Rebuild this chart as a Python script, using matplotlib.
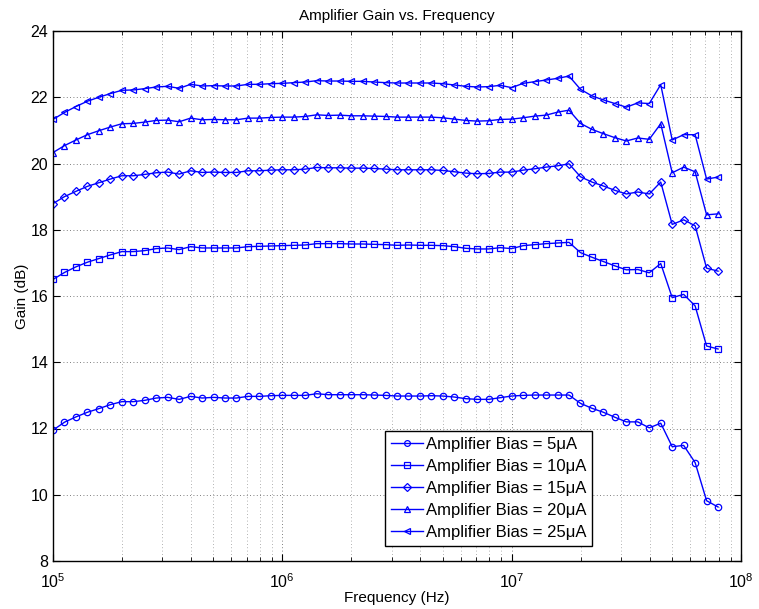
import numpy as np
import matplotlib
matplotlib.use("Agg")
import matplotlib.pyplot as plt
from matplotlib.ticker import LogLocator, NullFormatter

plt.rcParams['font.family'] = ['Liberation Sans', 'DejaVu Sans']

# frequencies: 20 points per decade from 1e5
exponents = [5 + k / 20 for k in range(59)]
freq = [10 ** e for e in exponents]

gain_5uA = [11.95, 12.19, 12.35, 12.49, 12.60, 12.72, 12.81, 12.81, 12.85, 12.92,
            12.94, 12.88, 12.97, 12.92, 12.94, 12.92, 12.92, 12.97, 12.97, 12.99,
            13.00, 13.00, 13.00, 13.05, 13.02, 13.02, 13.02, 13.02, 13.01, 13.00,
            12.98, 12.98, 12.98, 12.99, 12.98, 12.95, 12.90, 12.88, 12.88, 12.93,
            12.98, 13.00, 13.01, 13.01, 13.01, 13.01, 12.76, 12.61, 12.49, 12.34,
            12.20, 12.20, 12.02, 12.16, 11.45, 11.49, 10.97, 9.82, 9.63]

gain_10uA = [16.50, 16.71, 16.88, 17.02, 17.13, 17.24, 17.34, 17.34, 17.37, 17.43,
             17.45, 17.40, 17.49, 17.45, 17.45, 17.45, 17.45, 17.49, 17.50, 17.51,
             17.52, 17.53, 17.54, 17.58, 17.58, 17.58, 17.57, 17.57, 17.56, 17.55,
             17.53, 17.54, 17.53, 17.53, 17.52, 17.49, 17.44, 17.42, 17.42, 17.46,
             17.43, 17.52, 17.55, 17.58, 17.60, 17.62, 17.31, 17.17, 17.04, 16.91,
             16.79, 16.80, 16.70, 16.98, 15.95, 16.05, 15.70, 14.49, 14.40]

gain_15uA = [18.79, 19.00, 19.16, 19.31, 19.42, 19.53, 19.63, 19.63, 19.67, 19.72,
             19.74, 19.68, 19.78, 19.73, 19.74, 19.73, 19.73, 19.78, 19.78, 19.80,
             19.81, 19.81, 19.83, 19.88, 19.87, 19.87, 19.86, 19.86, 19.85, 19.83,
             19.81, 19.81, 19.81, 19.81, 19.79, 19.75, 19.71, 19.69, 19.70, 19.74,
             19.74, 19.80, 19.84, 19.89, 19.93, 19.99, 19.60, 19.44, 19.32, 19.19,
             19.08, 19.14, 19.08, 19.44, 18.16, 18.30, 18.12, 16.84, 16.75]

gain_20uA = [20.33, 20.54, 20.71, 20.87, 20.99, 21.10, 21.20, 21.21, 21.25, 21.30,
             21.31, 21.26, 21.37, 21.32, 21.33, 21.32, 21.32, 21.37, 21.37, 21.39,
             21.40, 21.40, 21.42, 21.47, 21.45, 21.46, 21.44, 21.44, 21.43, 21.42,
             21.40, 21.40, 21.40, 21.40, 21.38, 21.34, 21.30, 21.28, 21.29, 21.33,
             21.34, 21.38, 21.43, 21.46, 21.55, 21.61, 21.21, 21.03, 20.90, 20.78,
             20.68, 20.77, 20.73, 21.20, 19.72, 19.89, 19.75, 18.45, 18.48]

gain_25uA = [21.33, 21.54, 21.72, 21.88, 22.00, 22.11, 22.21, 22.22, 22.26, 22.31,
             22.33, 22.27, 22.39, 22.34, 22.35, 22.34, 22.34, 22.39, 22.39, 22.41,
             22.42, 22.44, 22.46, 22.50, 22.49, 22.49, 22.48, 22.48, 22.46, 22.44,
             22.43, 22.43, 22.43, 22.43, 22.41, 22.37, 22.33, 22.31, 22.32, 22.36,
             22.29, 22.42, 22.47, 22.52, 22.57, 22.64, 22.24, 22.04, 21.92, 21.81,
             21.70, 21.83, 21.81, 22.38, 20.71, 20.87, 20.87, 19.53, 19.59]

labels = ['Amplifier Bias = 5\u03bcA', 'Amplifier Bias = 10\u03bcA',
          'Amplifier Bias = 15\u03bcA', 'Amplifier Bias = 20\u03bcA',
          'Amplifier Bias = 25\u03bcA']
markers = ['o', 's', 'D', '^', '<']
series = [gain_5uA, gain_10uA, gain_15uA, gain_20uA, gain_25uA]
msizes = [4.6, 4.2, 4.4, 5.0, 5.0]

fig = plt.figure(figsize=(7.59, 6.09), dpi=100)
ax = fig.add_axes([53/759, 48/609, 688/759, 530/609])

for y, m, lab, ms in zip(series, markers, labels, msizes):
    ax.plot(freq, y, color='#0000ff', marker=m, markersize=ms,
            markerfacecolor='none', markeredgecolor='#0000ff',
            markeredgewidth=0.9, linewidth=1.0, label=lab)

ax.set_xscale('log')
ax.set_xlim(1e5, 1e8)
ax.set_ylim(8, 24)
ax.set_yticks(range(8, 25, 2))
ax.xaxis.set_minor_locator(LogLocator(base=10, subs=np.arange(2, 10), numticks=20))
ax.xaxis.set_minor_formatter(NullFormatter())

ax.grid(True, which='major', axis='both', linestyle=(0, (1, 3)), color='#555555', linewidth=0.6)
ax.grid(True, which='minor', axis='x', linestyle=(0, (1, 3)), color='#999999', linewidth=0.6)

ax.tick_params(which='both', direction='in', top=True, right=True, labelsize=11.5)
ax.tick_params(axis='x', which='major', pad=8)
ax.tick_params(which='major', length=5, width=0.8)
ax.tick_params(which='minor', length=3, width=0.6)
for sp in ax.spines.values():
    sp.set_linewidth(1.0)

ax.set_xlabel('Frequency (Hz)', fontsize=11, labelpad=0)
ax.set_ylabel('Gain (dB)', fontsize=11, labelpad=1)
ax.set_title('Amplifier Gain vs. Frequency', fontsize=11, pad=8)

leg = ax.legend(loc='lower left', bbox_to_anchor=(0.4826, 0.028), fontsize=12,
                fancybox=False, framealpha=1, edgecolor='black',
                handlelength=1.9, handletextpad=0.2, borderpad=0.35,
                labelspacing=0.42, borderaxespad=0, markerscale=0.9)
leg.get_frame().set_linewidth(1.0)

fig.savefig('out.png', dpi=100)
